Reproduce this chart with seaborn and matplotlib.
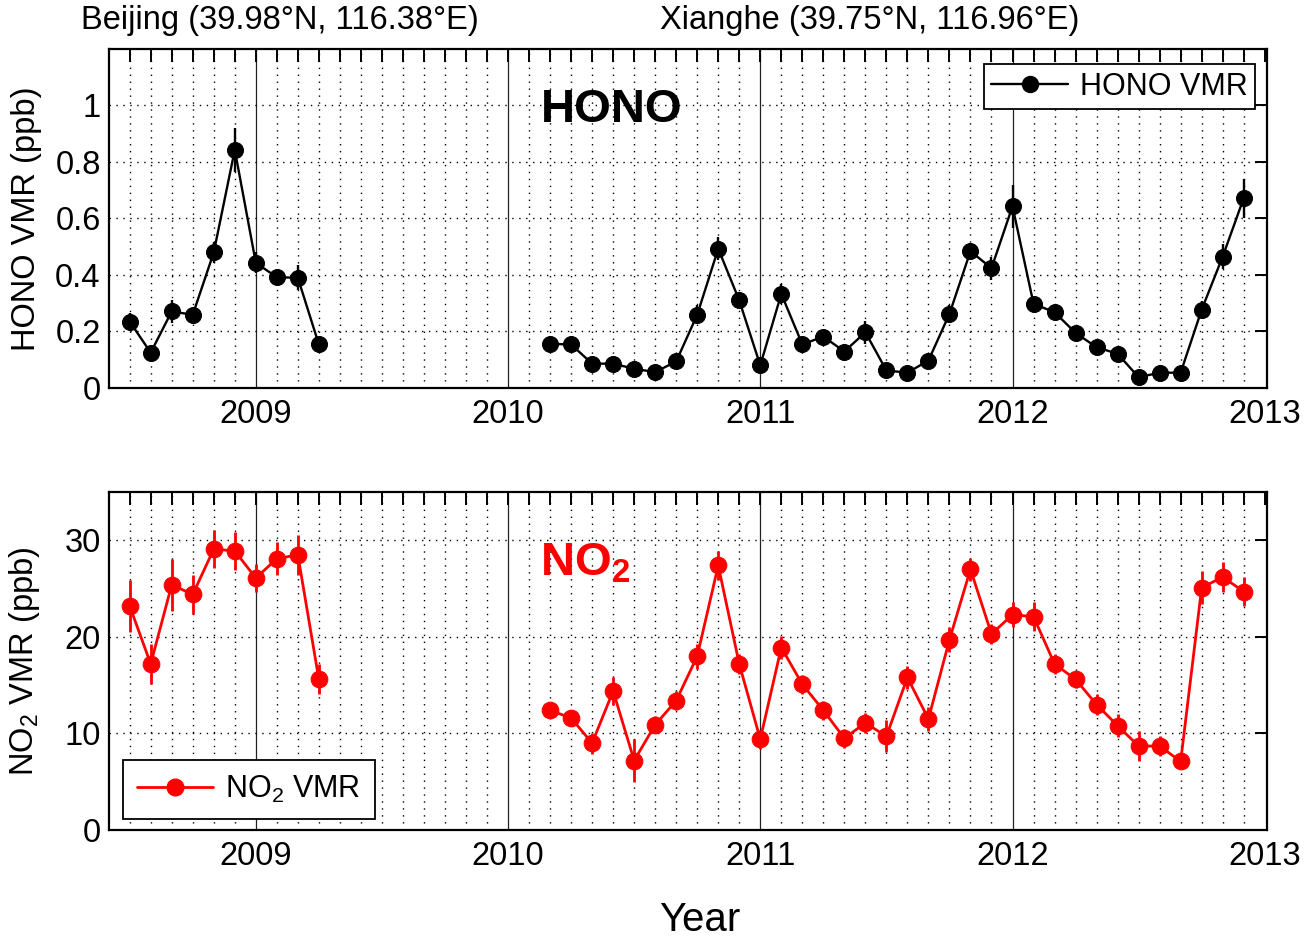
import numpy as np
import pandas as pd
import matplotlib
matplotlib.use("Agg")
import matplotlib.pyplot as plt
import seaborn as sns
from matplotlib.lines import Line2D
from matplotlib.ticker import FixedLocator, NullFormatter, FuncFormatter

# ---------------- data ----------------
beijing_months = pd.period_range("2008-07", "2009-04", freq="M")
xianghe_months = pd.period_range("2010-03", "2012-12", freq="M")

beijing_hono = [0.235, 0.125, 0.271, 0.259, 0.480, 0.843, 0.443, 0.392, 0.390, 0.154]
beijing_hono_err = [0.032, 0.02, 0.042, 0.02, 0.038, 0.077, 0.037, 0.02, 0.044, 0.02]
xianghe_hono = [0.156, 0.154, 0.086, 0.086, 0.068, 0.056, 0.094, 0.259, 0.493, 0.310,
                0.080, 0.333, 0.154, 0.182, 0.129, 0.197, 0.062, 0.054, 0.097, 0.262,
                0.484, 0.424, 0.643, 0.298, 0.268, 0.195, 0.144, 0.121, 0.038, 0.054,
                0.054, 0.277, 0.465, 0.672]
xianghe_hono_err = [0.02, 0.02, 0.015, 0.015, 0.015, 0.015, 0.02, 0.033, 0.041, 0.03,
                    0.02, 0.035, 0.02, 0.02, 0.02, 0.04, 0.015, 0.015, 0.02, 0.03,
                    0.03, 0.041, 0.077, 0.02, 0.02, 0.02, 0.02, 0.02, 0.015, 0.015,
                    0.015, 0.03, 0.044, 0.069]

beijing_no2 = [23.2, 17.2, 25.4, 24.4, 29.1, 28.9, 26.1, 28.1, 28.5, 15.6]
beijing_no2_err = [2.7, 2.1, 2.7, 2.0, 2.0, 2.0, 1.5, 1.7, 2.1, 1.55]
xianghe_no2 = [12.4, 11.6, 9.0, 14.4, 7.2, 10.9, 13.4, 18.0, 27.4, 17.2,
               9.4, 18.9, 15.1, 12.4, 9.5, 11.1, 9.7, 15.8, 11.5, 19.7,
               27.0, 20.3, 22.3, 22.1, 17.2, 15.6, 13.0, 10.8, 8.7, 8.7,
               7.1, 25.1, 26.2, 24.7]
xianghe_no2_err = [0.8, 0.8, 1.1, 1.5, 2.2, 0.9, 1.0, 1.3, 1.5, 1.0,
                   1.0, 1.2, 1.0, 1.0, 1.0, 1.0, 1.65, 1.2, 1.2, 1.3,
                   1.2, 1.0, 1.3, 1.5, 1.0, 0.9, 1.1, 1.2, 1.6, 1.0,
                   0.8, 1.7, 1.6, 1.5]

year_ticks = [2009, 2010, 2011, 2012, 2013]
hono_yticks = [0, 0.2, 0.4, 0.6, 0.8, 1.0]
no2_yticks = [0, 10, 20, 30]
site_titles = ["Beijing (39.98°N, 116.38°E)", "Xianghe (39.75°N, 116.96°E)"]


def decimal_year(periods):
    return np.array([p.year + (p.month - 1) / 12.0 for p in periods])


df = pd.concat([
    pd.DataFrame({"site": "Beijing", "t": decimal_year(beijing_months),
                  "hono": beijing_hono, "hono_err": beijing_hono_err,
                  "no2": beijing_no2, "no2_err": beijing_no2_err}),
    pd.DataFrame({"site": "Xianghe", "t": decimal_year(xianghe_months),
                  "hono": xianghe_hono, "hono_err": xianghe_hono_err,
                  "no2": xianghe_no2, "no2_err": xianghe_no2_err}),
], ignore_index=True)

# ---------------- style ----------------
sns.set_style("white")
plt.rcParams["font.family"] = ["Liberation Sans", "DejaVu Sans"]
plt.rcParams["mathtext.fontset"] = "custom"
plt.rcParams["mathtext.rm"] = "Liberation Sans"
plt.rcParams["mathtext.it"] = "Liberation Sans:italic"
plt.rcParams["mathtext.bf"] = "Liberation Sans:bold"
for key in ["text.color", "axes.labelcolor", "xtick.color", "ytick.color"]:
    plt.rcParams[key] = "black"

FS = 23.5
LFS = 22
fig = plt.figure(figsize=(13.07, 9.38), dpi=100)
ax1 = fig.add_axes([0.0834, 0.5864, 0.886, 0.3614])
ax2 = fig.add_axes([0.0834, 0.1151, 0.886, 0.3603])

month_ticks = np.arange(2008.5, 2013.0 + 1e-6, 1 / 12.0)


def style_axis(ax, yticks, ylim):
    ax.set_xlim(2008.418, 2013.009)
    ax.set_ylim(*ylim)
    ax.xaxis.set_major_locator(FixedLocator(year_ticks))
    ax.xaxis.set_minor_locator(FixedLocator(month_ticks))
    ax.xaxis.set_minor_formatter(NullFormatter())
    ax.set_xticklabels([str(y) for y in year_ticks])
    ax.yaxis.set_major_locator(FixedLocator(yticks))
    ax.yaxis.set_major_formatter(FuncFormatter(lambda v, p: f"{v:g}"))
    ax.tick_params(axis="both", which="both", direction="in", top=True, right=True,
                   length=9, width=1.4, labelsize=FS, color="k", labelcolor="k")
    ax.tick_params(axis="x", which="major", pad=8)
    ax.tick_params(axis="y", which="major", pad=6)
    # grids
    for m in month_ticks:
        if abs(m - round(m)) > 1e-6:
            ax.axvline(m, color="k", lw=1.0, ls=(0, (1, 4)), zorder=0.5)
    for yr in year_ticks[:-1]:
        ax.axvline(yr, color="#222222", lw=0.9, ls="-", zorder=0.5)
    for yv in yticks[1:]:
        ax.axhline(yv, color="k", lw=1.0, ls=(0, (1, 4)), zorder=0.5)
    for s in ax.spines.values():
        s.set_color("k")
        s.set_linewidth(1.6)
        s.set_zorder(5)
    ax.set_xlabel("")


# ---------------- HONO ----------------
sns.lineplot(data=df, x="t", y="hono", units="site", estimator=None, color="k",
             marker="o", markersize=11.5, markeredgecolor="k", linewidth=1.7,
             legend=False, ax=ax1, zorder=3)
ax1.errorbar(df["t"], df["hono"], yerr=df["hono_err"], fmt="none",
             ecolor="k", elinewidth=1.7, capsize=0, zorder=3)
style_axis(ax1, hono_yticks, (0, 1.2))
ax1.set_ylabel("HONO VMR (ppb)", fontsize=FS)
ax1.yaxis.set_label_coords(-0.058, 0.5)
ax1.text(0.373, 0.82, "HONO", transform=ax1.transAxes, fontsize=34,
         fontweight="bold", ha="left", va="center", color="k", zorder=4)
h1 = Line2D([], [], color="k", marker="o", markersize=11.5, lw=1.7)
leg1 = ax1.legend([h1], ["HONO VMR"], loc="upper right", bbox_to_anchor=(0.99, 0.956),
                  fontsize=LFS, frameon=True, fancybox=False, handlelength=2.5,
                  borderpad=0.25, handletextpad=0.4, borderaxespad=0.0)
leg1.get_frame().set_edgecolor("k")
leg1.get_frame().set_linewidth(1.3)
leg1.get_frame().set_alpha(1)
leg1.set_zorder(6)

# ---------------- NO2 ----------------
sns.lineplot(data=df, x="t", y="no2", units="site", estimator=None, color="#ff0000",
             marker="o", markersize=12, markeredgecolor="#ff0000", linewidth=2.0,
             legend=False, ax=ax2, zorder=3)
ax2.errorbar(df["t"], df["no2"], yerr=df["no2_err"], fmt="none",
             ecolor="#ff0000", elinewidth=2.0, capsize=0, zorder=3)
style_axis(ax2, no2_yticks, (0, 35))
ax2.set_ylabel(r"NO$_2$ VMR (ppb)", fontsize=FS)
ax2.yaxis.set_label_coords(-0.058, 0.5)
ax2.text(0.372, 0.79, r"$\mathbf{NO_2}$", transform=ax2.transAxes, fontsize=34,
         ha="left", va="center", color="#ff0000", zorder=4)
h2 = Line2D([], [], color="#ff0000", marker="o", markersize=12, lw=2.0)
leg2 = ax2.legend([h2], [r"NO$_2$ VMR"], loc="lower left", bbox_to_anchor=(0.012, 0.033),
                  fontsize=LFS, frameon=True, fancybox=False, handlelength=2.5,
                  borderpad=0.45, handletextpad=0.4, borderaxespad=0.0)
leg2.get_frame().set_edgecolor("k")
leg2.get_frame().set_linewidth(1.3)
leg2.get_frame().set_alpha(1)
leg2.set_zorder(6)

# ---------------- figure texts ----------------
fig.text(280 / 1307, 1 - 21 / 938, site_titles[0], fontsize=FS, ha="center", va="center")
fig.text(870 / 1307, 1 - 21 / 938, site_titles[1], fontsize=FS, ha="center", va="center")
fig.text(700 / 1307, 1 - 920 / 938, "Year", fontsize=29, ha="center", va="center")

fig.savefig("out.png", dpi=100)
